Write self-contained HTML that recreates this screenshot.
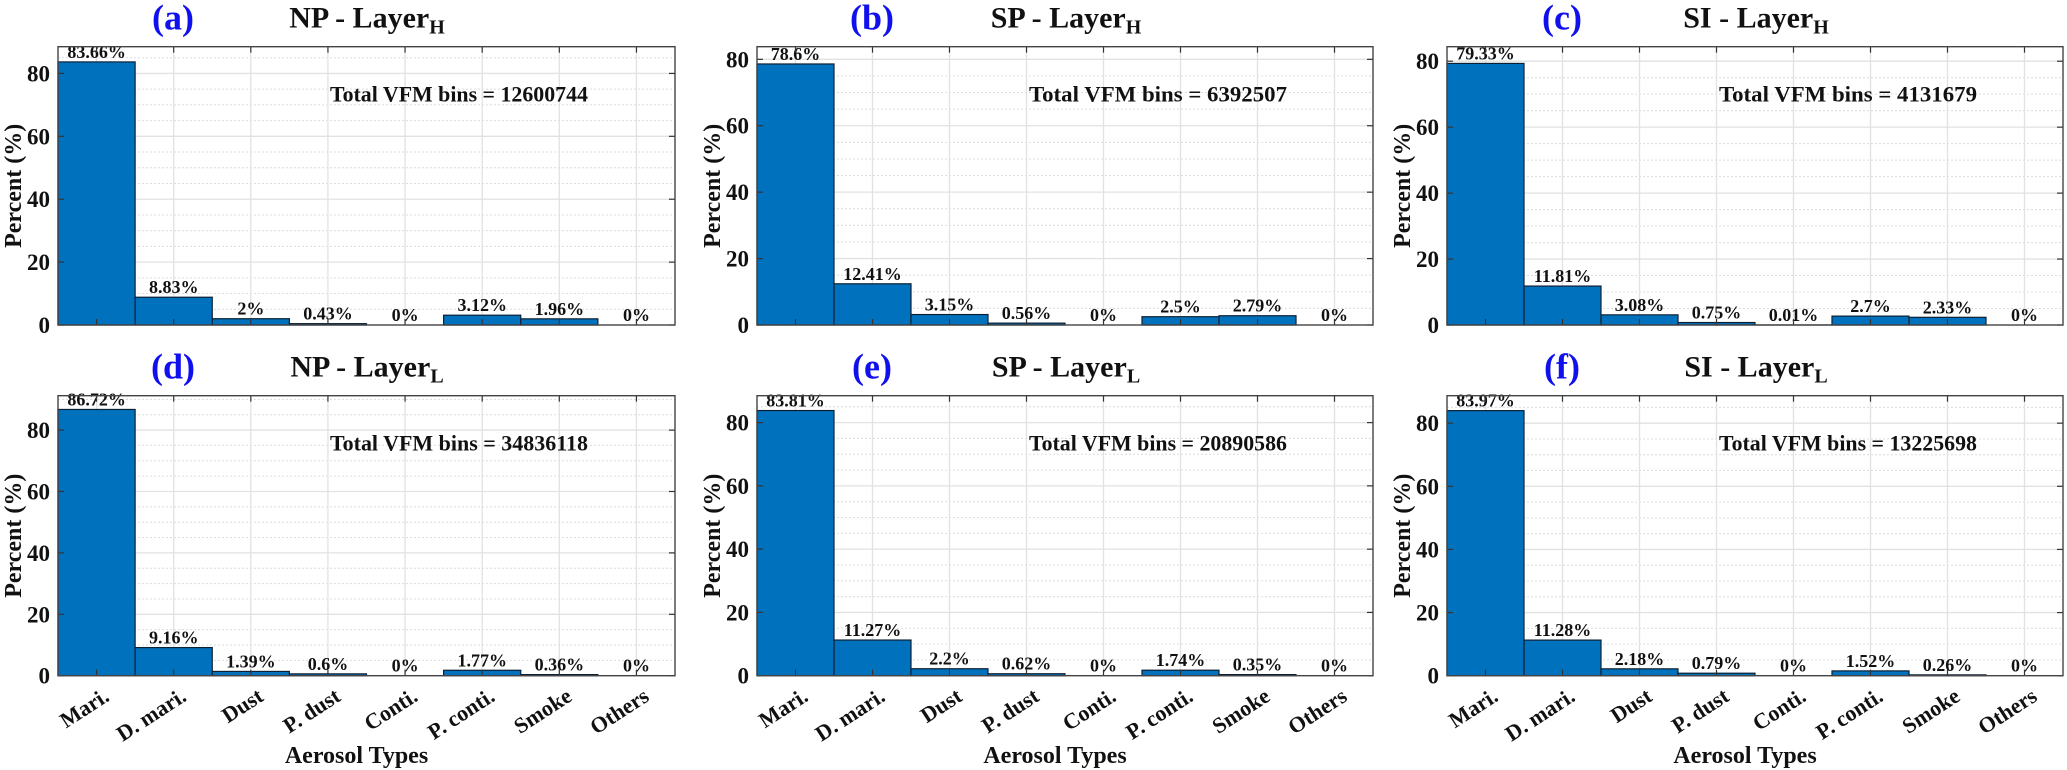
<!DOCTYPE html>
<html><head><meta charset="utf-8">
<style>
html,body{margin:0;padding:0;background:#fff;}
svg{display:block;font-family:"Liberation Serif","DejaVu Serif",serif;font-weight:bold;}
</style></head>
<body>
<svg id="fig" width="2067" height="770" viewBox="0 0 2067 770" xmlns="http://www.w3.org/2000/svg"></svg>
<script>
const categories = ["Mari.","D. mari.","Dust","P. dust","Conti.","P. conti.","Smoke","Others"];
const valuesA = [83.66, 8.83, 2, 0.43, 0, 3.12, 1.96, 0];
const valuesB = [78.6, 12.41, 3.15, 0.56, 0, 2.5, 2.79, 0];
const valuesC = [79.33, 11.81, 3.08, 0.75, 0.01, 2.7, 2.33, 0];
const valuesD = [86.72, 9.16, 1.39, 0.6, 0, 1.77, 0.36, 0];
const valuesE = [83.81, 11.27, 2.2, 0.62, 0, 1.74, 0.35, 0];
const valuesF = [83.97, 11.28, 2.18, 0.79, 0, 1.52, 0.26, 0];
const labelsA = ["83.66%","8.83%","2%","0.43%","0%","3.12%","1.96%","0%"];
const labelsB = ["78.6%","12.41%","3.15%","0.56%","0%","2.5%","2.79%","0%"];
const labelsC = ["79.33%","11.81%","3.08%","0.75%","0.01%","2.7%","2.33%","0%"];
const labelsD = ["86.72%","9.16%","1.39%","0.6%","0%","1.77%","0.36%","0%"];
const labelsE = ["83.81%","11.27%","2.2%","0.62%","0%","1.74%","0.35%","0%"];
const labelsF = ["83.97%","11.28%","2.18%","0.79%","0%","1.52%","0.26%","0%"];
const yTicks = [0, 20, 40, 60, 80];
const yMaxes = [88.5, 83.8, 84.4, 91.2, 88.5, 88.7];
const panelLetters = ["(a)","(b)","(c)","(d)","(e)","(f)"];
const panelRegions = ["NP","SP","SI","NP","SP","SI"];
const panelLayers = ["H","H","H","L","L","L"];
const totalBins = ["12600744","6392507","4131679","34836118","20890586","13225698"];

const NS = "http://www.w3.org/2000/svg";
const svg = document.getElementById("fig");
function mk(tag, attrs, parent){
  const e = document.createElementNS(NS, tag);
  for (const k in attrs) e.setAttribute(k, attrs[k]);
  (parent||svg).appendChild(e);
  return e;
}
const allValues = [valuesA,valuesB,valuesC,valuesD,valuesE,valuesF];
const allLabels = [labelsA,labelsB,labelsC,labelsD,labelsE,labelsF];
const colLeft = [58, 757, 1447];
const colRight = [675, 1373, 2063];
const rowTop = [46.7, 395.7];
const rowBottom = [325, 675.7];

for (let p = 0; p < 6; p++) {
  const col = p % 3, row = Math.floor(p / 3);
  const L = colLeft[col], R = colRight[col], T = rowTop[row], B = rowBottom[row];
  const ymax = yMaxes[p];
  const yS = v => B - (v / ymax) * (B - T);
  const bw = (R - L) / categories.length;
  const xC = i => L + bw * (i + 0.5);
  const g = mk("g", {});
  
  
  mk("rect", {x:L, y:T, width:R-L, height:B-T, fill:"#fff"}, g);
  for (let v = 5; v < ymax; v += 5) {
    if (v % 20 === 0) continue;
    const gl = mk("line", {x1:L, x2:R, y1:yS(v), y2:yS(v), stroke:"#dcdcdc", "stroke-width":1, "stroke-dasharray":"2,2"}, g);
    
    
  }
  yTicks.forEach(v => {
    if (v === 0) return;
    const gl = mk("line", {x1:L, x2:R, y1:yS(v), y2:yS(v), stroke:"#e2e2e2", "stroke-width":1.3}, g);
    
    
  });
  categories.forEach((c, i) => {
    const gl = mk("line", {x1:xC(i), x2:xC(i), y1:T, y2:B, stroke:"#e2e2e2", "stroke-width":1.3}, g);
    
    
  });
  const vals = allValues[p], labs = allLabels[p];
  vals.forEach((v, i) => {
    const y = yS(v);
    const r = mk("rect", {x:L + bw*i, y:y, width:bw, height:B - y, fill:"#0072BD", stroke:"#0d2033", "stroke-width":1.2}, g);
    
    
    const t = mk("text", {x:xC(i), y:y - 4, "text-anchor":"middle", "font-size":18, fill:"#111"}, g);
    t.textContent = labs[i];
    
    
  });
  categories.forEach((c, i) => {
    mk("line", {x1:xC(i), x2:xC(i), y1:B, y2:B-6, stroke:"#333", "stroke-width":1.2}, g);
    mk("line", {x1:xC(i), x2:xC(i), y1:T, y2:T+6, stroke:"#333", "stroke-width":1.2}, g);
  });
  yTicks.forEach(v => {
    mk("line", {x1:L, x2:L+6, y1:yS(v), y2:yS(v), stroke:"#333", "stroke-width":1.2}, g);
    mk("line", {x1:R, x2:R-6, y1:yS(v), y2:yS(v), stroke:"#333", "stroke-width":1.2}, g);
    const t = mk("text", {x:L - 8, y:yS(v) + 8, "text-anchor":"end", "font-size":23, fill:"#111"}, g);
    t.textContent = v;
    
    
  });
  const fr = mk("rect", {x:L, y:T, width:R-L, height:B-T, fill:"none", stroke:"#444", "stroke-width":1.4}, g);
  
  
  const yt = mk("text", {x:0, y:0, "text-anchor":"middle", "font-size":24, fill:"#111",
    transform:"translate(" + (L - 37) + "," + ((T + B) / 2) + ") rotate(-90)"}, g);
  yt.textContent = "Percent (%)";
  
  
  const pl = mk("text", {x:L + 115, y:T - 17, "text-anchor":"middle", "font-size":36, fill:"#1010ee"}, g);
  pl.textContent = panelLetters[p];
  
  
  const tt = mk("text", {x:L + 309, y:T - 19, "text-anchor":"middle", "font-size":30, fill:"#111"}, g);
  tt.textContent = panelRegions[p] + " - Layer";
  const ts = mk("tspan", {"font-size":20, dy:6}, tt);
  ts.textContent = panelLayers[p];
  
  
  const tb = mk("text", {x:L + 272, y:T + 55, "text-anchor":"start", "font-size":22, fill:"#111", textLength:258, lengthAdjust:"spacingAndGlyphs"}, g);
  tb.textContent = "Total VFM bins = " + totalBins[p];
  
  
  if (row === 1) {
    categories.forEach((c, i) => {
      const xl = mk("text", {x:0, y:0, "text-anchor":"end", "font-size":22, fill:"#111",
        transform:"translate(" + (xC(i) + 14) + "," + (B + 24) + ") rotate(-33)"}, g);
      xl.textContent = c;
      
      
    });
    const xt = mk("text", {x:(L + R) / 2 - 10, y:763, "text-anchor":"middle", "font-size":24, fill:"#111"}, g);
    xt.textContent = "Aerosol Types";
    
    
  }
}
</script>
</body></html>
